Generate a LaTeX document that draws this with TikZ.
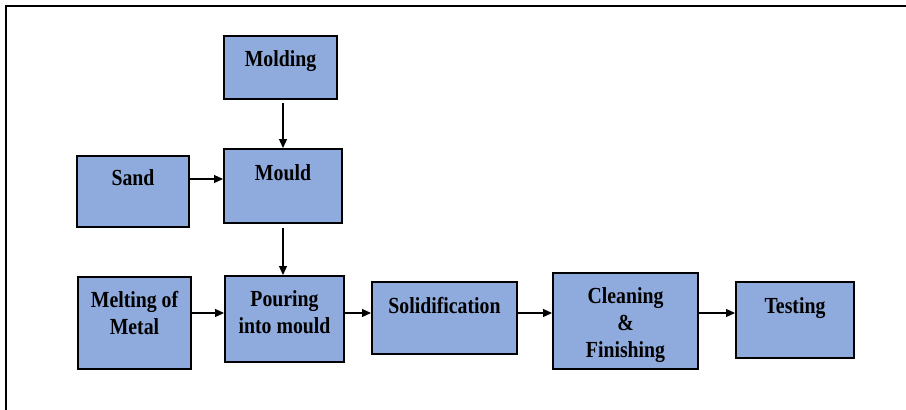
\documentclass[tikz,border=0pt]{standalone}
\usepackage{fontspec}
\setmainfont{Liberation Serif}[FakeStretch=0.86]
\usepackage{xcolor}
\usepackage{tikz}
\usetikzlibrary{calc,arrows.meta}
\definecolor{stagefill}{HTML}{8FAADC}
\definecolor{ink}{HTML}{000000}
\tikzset{
  frame/.style={draw=ink, line width=2pt},
  stage/.style={draw=ink, fill=stagefill, line width=2pt, inner sep=0pt},
  stagetext/.style={
    anchor=north,
    inner sep=0pt,
    align=center,
    text=ink,
    font=\fontsize{23}{27}\selectfont\bfseries
  },
  flow/.style={draw=ink, line width=1.2pt, -{Triangle[length=9pt, width=8pt]}}
}

\begin{document}
\begin{tikzpicture}[x=1pt, y=-1pt]
  \useasboundingbox (0,0) rectangle (906,410);
  \draw[frame] (6,410) -- (6,6) -- (906,6);

  % boxes
  \node[stage, minimum width=113, minimum height=63] (molding) at (280.5,67.5) {};
  \node[stage, minimum width=118, minimum height=74] (mould)   at (283,186) {};
  \node[stage, minimum width=112, minimum height=71] (sand)    at (133,191.5) {};
  \node[stage, minimum width=113, minimum height=92] (melt)    at (134.5,323) {};
  \node[stage, minimum width=119, minimum height=86] (pour)    at (284.5,319) {};
  \node[stage, minimum width=145, minimum height=72] (solid)   at (444.5,318) {};
  \node[stage, minimum width=145, minimum height=96] (clean)   at (625.5,321) {};
  \node[stage, minimum width=118, minimum height=76] (test)    at (795,320) {};

  % labels, hung from the top of each box
  \node[stagetext] (moldingtxt) at ([yshift=-15pt]molding.north) {Molding};
  \node[stagetext] (mouldtxt)   at ([yshift=-16pt]mould.north) {Mould};
  \node[stagetext] (sandtxt)    at ([yshift=-14pt]sand.north) {Sand};
  \node[stagetext] (melttxt)    at ([yshift=-15pt]melt.north) {Melting of\\Metal};
  \node[stagetext] (pourtxt)    at ([yshift=-15pt]pour.north) {Pouring\\into mould};
  \node[stagetext] (solidtxt)   at ([yshift=-16pt]solid.north) {Solidification};
  \node[stagetext] (cleantxt)   at ([yshift=-15pt]clean.north) {Cleaning\\\&\\Finishing};
  \node[stagetext] (testtxt)    at ([yshift=-16pt]test.north) {Testing};

  \coordinate (sandrow) at (0,179);
  \coordinate (mainrow) at (0,313);

  \draw[flow] ([yshift=-3pt]molding.south -| mould.north) -- (mould.north);
  \draw[flow] ([yshift=-4pt]mould.south) -- (mould.south |- pour.north);
  \draw[flow] (sand.east |- sandrow) -- (mould.west |- sandrow);
  \draw[flow] (melt.east |- mainrow) -- (pour.west |- mainrow);
  \draw[flow] (pour.east |- mainrow) -- (solid.west |- mainrow);
  \draw[flow] (solid.east |- mainrow) -- (clean.west |- mainrow);
  \draw[flow] (clean.east |- mainrow) -- (test.west |- mainrow);
\end{tikzpicture}
\end{document}
